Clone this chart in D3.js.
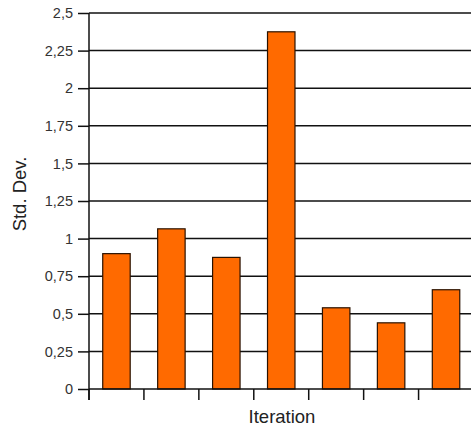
<!DOCTYPE html>
<html><head><meta charset="utf-8">
<script src="https://cdn.jsdelivr.net/npm/d3@7"></script>
<style>body{margin:0;background:#fff;}svg{display:block;}</style>
</head><body>
<script>
const categories = ["1","2","3","4","5","6","7"];
const values = [0.9, 1.065, 0.875, 2.375, 0.54, 0.44, 0.66];
const yTicks = [0, 0.25, 0.5, 0.75, 1, 1.25, 1.5, 1.75, 2, 2.25, 2.5];

const W = 471, H = 429;
const svg = d3.select("body").append("svg").attr("width", W).attr("height", H);
const x0 = 89, x1 = 473.5, yTop = 13, yBot = 389;
const x = d3.scaleBand().domain(categories).range([x0, x1]).paddingInner(0.5).paddingOuter(0.25);
const y = d3.scaleLinear().domain([0, 2.5]).range([yBot, yTop]);
const fmt = v => String(v).replace(".", ",");
const FONT = "Liberation Sans, Arial, sans-serif";

// gridlines
svg.append("g").selectAll("line").data(yTicks.filter(d => d > 0)).join("line")
  .attr("x1", x0).attr("x2", W).attr("y1", d => y(d)).attr("y2", d => y(d))
  .attr("stroke", "#111").attr("stroke-width", 1.5);

// bars
svg.append("g").selectAll("rect").data(values).join("rect")
  .attr("x", (d, i) => x(categories[i])).attr("width", x.bandwidth())
  .attr("y", d => y(d)).attr("height", d => yBot - y(d))
  .attr("fill", "#ff6a00").attr("stroke", "#2a1200").attr("stroke-width", 1.2);

// y axis
const ya = svg.append("g").attr("transform", `translate(${x0},0)`)
  .call(d3.axisLeft(y).tickValues(yTicks).tickFormat(fmt).tickSize(11).tickPadding(5));
ya.select(".domain").remove();
ya.selectAll(".tick line").attr("stroke", "#111").attr("stroke-width", 1.5);
ya.selectAll("text").attr("font-family", FONT).attr("font-size", 14.5).attr("fill", "#333");
svg.append("line").attr("x1", x0).attr("x2", x0).attr("y1", yTop).attr("y2", 400)
  .attr("stroke", "#111").attr("stroke-width", 1.5);

// x axis
const step = x.step();
const bounds = d3.range(categories.length).map(i => x0 + i * step);
svg.append("line").attr("x1", x0).attr("x2", W).attr("y1", yBot).attr("y2", yBot)
  .attr("stroke", "#111").attr("stroke-width", 1.5);
svg.append("g").selectAll("line").data(bounds).join("line")
  .attr("x1", d => d).attr("x2", d => d).attr("y1", yBot).attr("y2", 400)
  .attr("stroke", "#111").attr("stroke-width", 1.5);

svg.append("text").attr("x", 282).attr("y", 423).attr("text-anchor", "middle")
  .attr("font-family", FONT).attr("font-size", 18.5).attr("fill", "#222")
  .text("Iteration");
svg.append("text").attr("transform", "translate(26,194) rotate(-90)").attr("text-anchor", "middle")
  .attr("font-family", FONT).attr("font-size", 18.5).attr("fill", "#222")
  .text("Std. Dev.");
</script>
</body></html>
